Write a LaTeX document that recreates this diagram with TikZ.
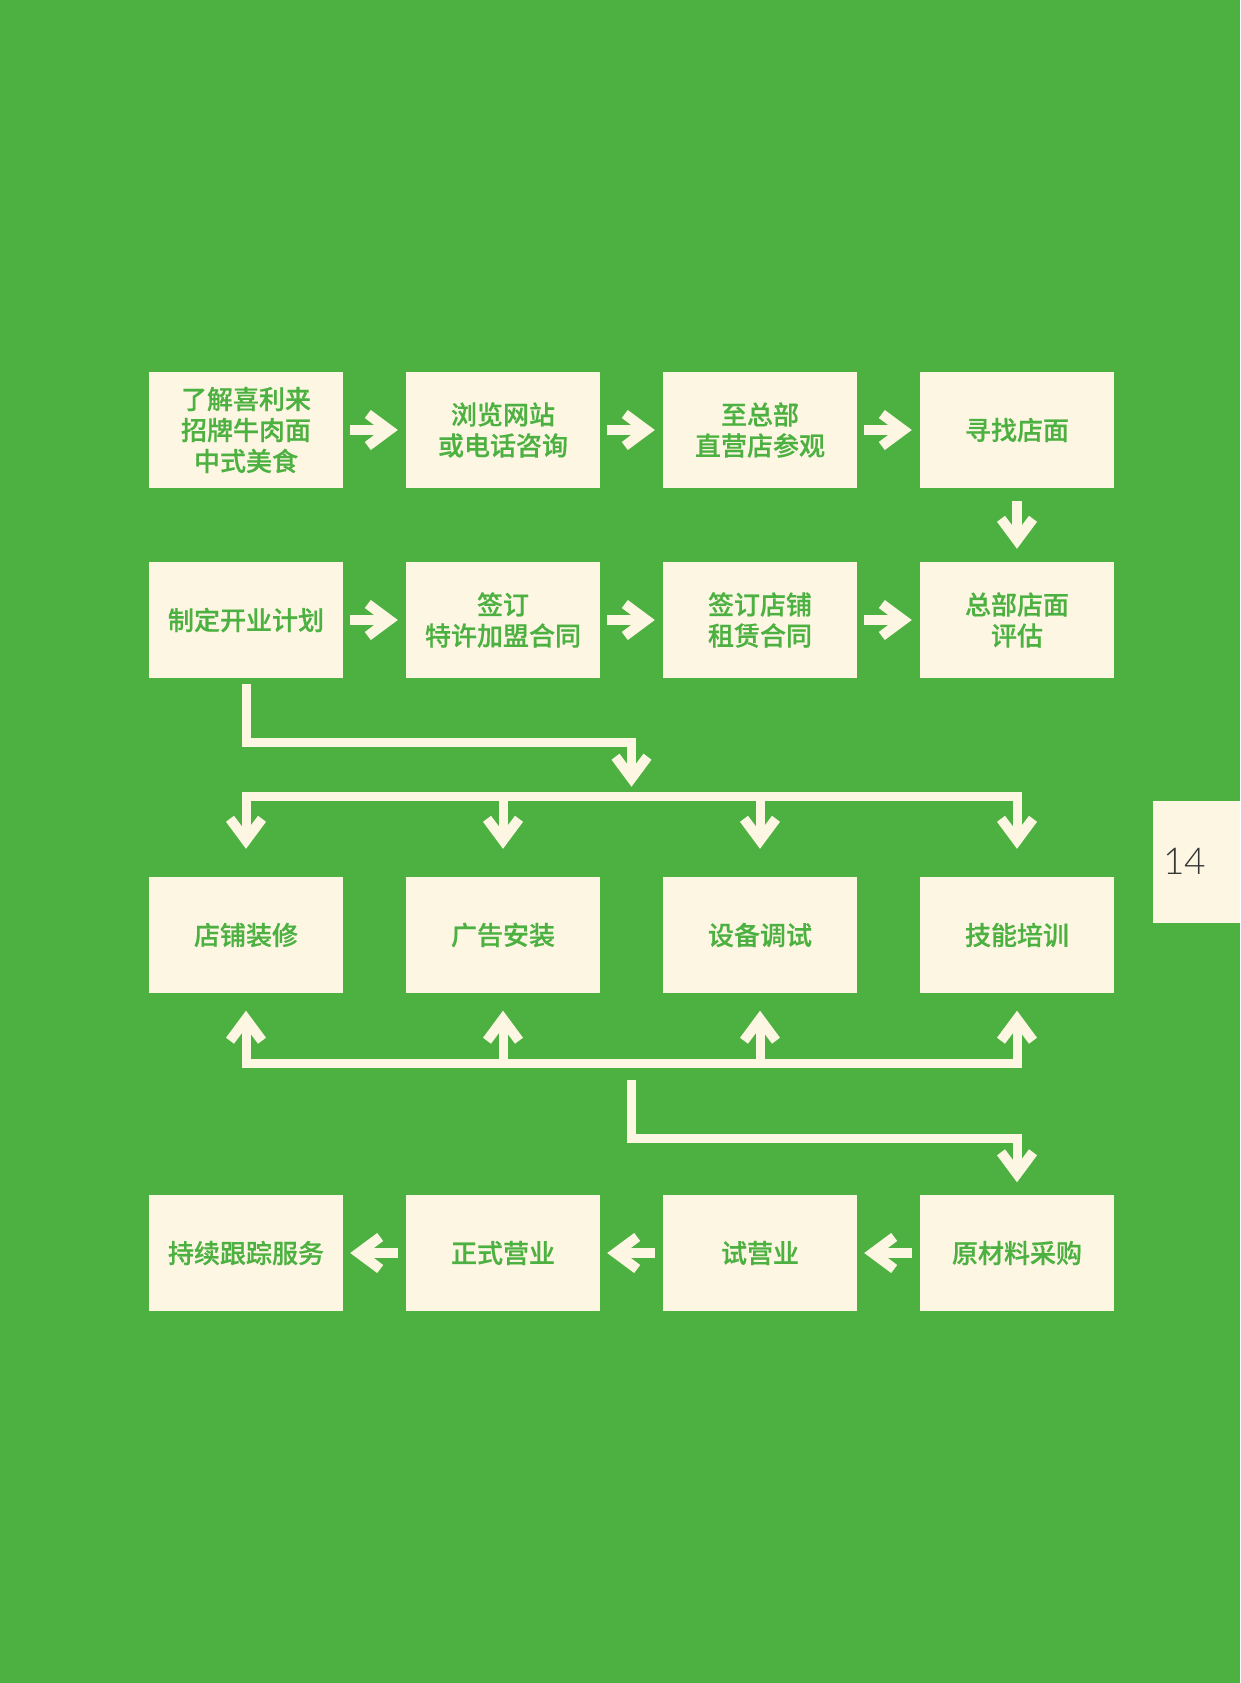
\documentclass[tikz,border=0pt]{standalone}
\usepackage{fontspec}
\setmainfont{Noto Sans CJK SC}
\newfontfamily\cjkmed{Noto Sans CJK SC Medium}[FakeBold=0.6]
\newfontfamily\numfont{Lato Light}
\definecolor{bggreen}{RGB}{77,177,65}
\definecolor{cream}{RGB}{252,246,227}
\definecolor{numgray}{RGB}{55,55,55}
\pgfdeclarearrow{
  name = Chev,
  parameters = {},
  setup code = {
    \pgfarrowssettipend{0pt}
    \pgfarrowssetlineend{-14pt}
    \pgfarrowssetbackend{-33pt}
  },
  drawing code = {
    \pgfpathmoveto{\pgfpoint{0pt}{0pt}}
    \pgfpathlineto{\pgfpoint{-27pt}{20pt}}
    \pgfpathlineto{\pgfpoint{-33pt}{12pt}}
    \pgfpathlineto{\pgfpoint{-17pt}{0pt}}
    \pgfpathlineto{\pgfpoint{-33pt}{-12pt}}
    \pgfpathlineto{\pgfpoint{-27pt}{-20pt}}
    \pgfpathclose
    \pgfusepathqfill
  }
}
\tikzset{
  stepbox/.style={fill=cream, draw=none, minimum width=194pt, minimum height=116pt,
    inner sep=0pt, align=center, text=bggreen,
    font=\cjkmed\fontsize{26pt}{31pt}\selectfont},
  bar/.style={color=cream, line width=9pt, line join=miter},
  harrow/.style={color=cream, line width=10pt, -Chev},
}
\begin{document}
\begin{tikzpicture}[x=1pt,y=-1pt]
\fill[bggreen] (0,0) rectangle (1240,1683);
\useasboundingbox (0,0) rectangle (1240,1683);

% row 1
\node[stepbox] (r1a) at (246,430) {了解喜利来\\招牌牛肉面\\中式美食};
\node[stepbox] (r1b) at (503,430) {浏览网站\\或电话咨询};
\node[stepbox] (r1c) at (760,430) {至总部\\直营店参观};
\node[stepbox] (r1d) at (1017,430) {寻找店面};
% row 2
\node[stepbox] (r2a) at (246,620) {制定开业计划};
\node[stepbox] (r2b) at (503,620) {签订\\特许加盟合同};
\node[stepbox] (r2c) at (760,620) {签订店铺\\租赁合同};
\node[stepbox] (r2d) at (1017,620) {总部店面\\评估};
% row 3
\node[stepbox] (r3a) at (246,935) {店铺装修};
\node[stepbox] (r3b) at (503,935) {广告安装};
\node[stepbox] (r3c) at (760,935) {设备调试};
\node[stepbox] (r3d) at (1017,935) {技能培训};
% row 4
\node[stepbox] (r4a) at (246,1253) {持续跟踪服务};
\node[stepbox] (r4b) at (503,1253) {正式营业};
\node[stepbox] (r4c) at (760,1253) {试营业};
\node[stepbox] (r4d) at (1017,1253) {原材料采购};

% horizontal arrows
\foreach \a/\b in {r1a/r1b,r1b/r1c,r1c/r1d,r2a/r2b,r2b/r2c,r2c/r2d}{
  \draw[harrow, shorten <=7pt, shorten >=8pt] (\a.east) -- (\b.west);
}
\foreach \a/\b in {r4d/r4c,r4c/r4b,r4b/r4a}{
  \draw[harrow, shorten <=8pt, shorten >=7pt] (\a.west) -- (\b.east);
}
\draw[harrow, shorten <=13pt, shorten >=13pt] (r1d.south) -- (r2d.north);

% upper distribution
\coordinate (k1) at (631.5,742.8);
\coordinate (t1) at (631.5,786.7);
\coordinate (bus1) at (0,796);
\draw[bar, -Chev, shorten <=6pt] (r2a.south) |- (k1) -- (t1);
\draw[bar, line cap=rect] (r3a.north |- bus1) -- (r3d.north |- bus1);
\foreach \n in {r3a,r3b,r3c,r3d}{
  \draw[bar, -Chev, shorten >=28pt] (\n.north |- bus1) -- (\n.north);
}

% lower collection
\coordinate (bus2) at (0,1063.8);
\draw[bar, line cap=rect] (r3a.south |- bus2) -- (r3d.south |- bus2);
\foreach \n in {r3a,r3b,r3c,r3d}{
  \draw[bar, -Chev, shorten >=17.5pt] (\n.south |- bus2) -- (\n.south);
}
\coordinate (k2) at (631.5,1080);
\coordinate (k3) at (1017,1138.7);
\draw[bar, -Chev, shorten >=12.5pt] (k2) |- (k3) -- (r4d.north);

% page tab
\fill[cream] (1153,801) rectangle (1240,923);
\node[text=numgray, font=\numfont\fontsize{37pt}{40pt}\selectfont, inner sep=0pt] (pg) at (1184.5,861) {14};
\end{tikzpicture}
\end{document}
